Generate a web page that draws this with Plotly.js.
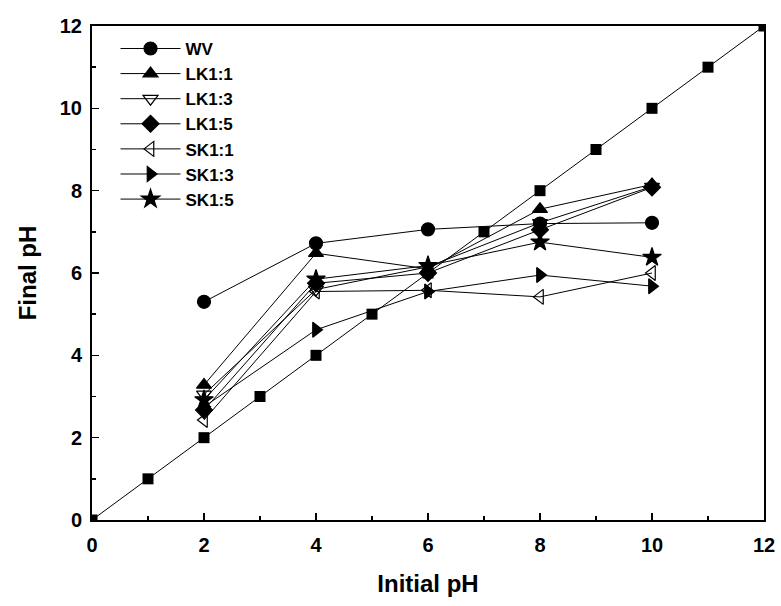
<!DOCTYPE html>
<html>
<head>
<meta charset="utf-8">
<script src="https://cdn.plot.ly/plotly-3.0.1.min.js"></script>
<style>html,body{margin:0;padding:0;background:#fff;}#chart{width:781px;height:606px;}</style>
</head>
<body>
<div id="chart"></div>
<script>
// Reference diagonal (final pH = initial pH)
var refX = [0,1,2,3,4,5,6,7,8,9,10,11,12];
var refY = [0,1,2,3,4,5,6,7,8,9,10,11,12];

// Measured series
var initialPH = [2,4,6,8,10];
var WV    = [5.30, 6.72, 7.06, 7.20, 7.22];
var LK1_1 = [3.28, 6.48, 6.10, 7.55, 8.15];
var LK1_3 = [3.05, 5.60, 6.15, 7.22, 8.10];
var LK1_5 = [2.67, 5.75, 6.00, 7.05, 8.08];
var SK1_1 = [2.43, 5.55, 5.58, 5.42, 6.00];
var SK1_3 = [2.75, 4.62, 5.55, 5.95, 5.68];
var SK1_5 = [2.92, 5.85, 6.18, 6.75, 6.38];

var seriesNames = ['WV','LK1:1','LK1:3','LK1:5','SK1:1','SK1:3','SK1:5'];
var seriesData  = [WV, LK1_1, LK1_3, LK1_5, SK1_1, SK1_3, SK1_5];
var symbols = ['circle','triangle-up','triangle-down-open','diamond','triangle-left-open','triangle-right','star'];
var sizes   = [13, 13, 13, 13, 13, 13, 14];

var traces = [{
  x: refX, y: refY, type: 'scatter', mode: 'lines+markers',
  line: {color: '#000', width: 1},
  marker: {symbol: 'square', size: 11, color: '#000'},
  showlegend: false, hoverinfo: 'skip'
}];
for (var i = 0; i < seriesNames.length; i++) {
  traces.push({
    x: initialPH, y: seriesData[i], name: seriesNames[i],
    type: 'scatter', mode: 'lines+markers',
    line: {color: '#000', width: 1},
    marker: {symbol: symbols[i], size: sizes[i], color: '#000',
             line: {color: '#000', width: 1.2}}
  });
}

var fam = 'Liberation Sans, Arial, sans-serif';
var axisFont = {family: fam, size: 20, color: '#000', weight: 'bold'};
var titleFont = {family: fam, size: 24, color: '#000', weight: 'bold'};
var layout = {
  width: 781, height: 606,
  margin: {l: 92, r: 17, t: 26, b: 86},
  paper_bgcolor: '#fff', plot_bgcolor: '#fff',
  font: {family: fam, color: '#000'},
  xaxis: {
    range: [0, 12], tickvals: [0,2,4,6,8,10,12], ticktext: ['0','2','4','6','8','10','12'],
    ticks: 'inside', ticklen: 7, tickwidth: 1.5, tickcolor: '#000',
    minor: {tickvals: [1,3,5,7,9,11], ticks: 'inside', ticklen: 4, tickwidth: 1.5, tickcolor: '#000'},
    showline: true, linecolor: '#000', linewidth: 2, mirror: true,
    showgrid: false, zeroline: false,
    tickfont: axisFont, ticklabelstandoff: 6,
    title: {text: 'Initial pH', font: titleFont, standoff: 20}
  },
  yaxis: {
    range: [0, 12], tickvals: [0,2,4,6,8,10,12], ticktext: ['0','2','4','6','8','10','12'],
    ticks: 'inside', ticklen: 7, tickwidth: 1.5, tickcolor: '#000',
    minor: {tickvals: [1,3,5,7,9,11], ticks: 'inside', ticklen: 4, tickwidth: 1.5, tickcolor: '#000'},
    showline: true, linecolor: '#000', linewidth: 2, mirror: true,
    showgrid: false, zeroline: false,
    tickfont: axisFont, ticklabelstandoff: 4,
    title: {text: 'Final pH', font: titleFont, standoff: 16}
  },
  legend: {
    x: 0.035, y: 0.99, xanchor: 'left', yanchor: 'top',
    bgcolor: 'rgba(0,0,0,0)', borderwidth: 0,
    font: {family: fam, size: 17, color: '#000', weight: 'bold'},
    itemwidth: 60, tracegroupgap: 0
  },
  showlegend: true
};

Plotly.newPlot('chart', traces, layout, {displayModeBar: false, staticPlot: true});
</script>
</body>
</html>
